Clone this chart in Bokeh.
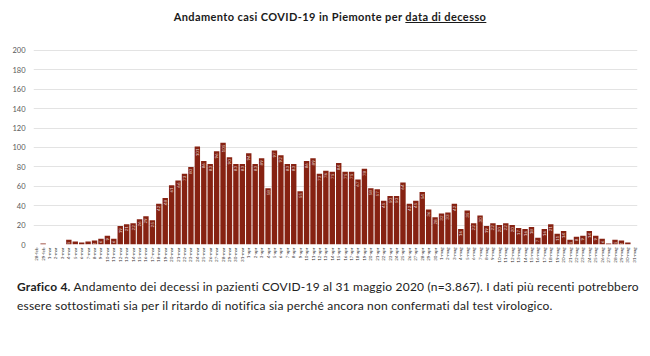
import math
from bokeh.plotting import figure
from bokeh.models import Div, ColumnDataSource, FactorRange, Range1d, FixedTicker
from bokeh.layouts import column
from bokeh.embed import file_html
from bokeh.resources import INLINE
from bokeh.core.properties import value

# ---- data ----
dates_feb = ["28-feb", "29-feb"]
dates_mar = [f"{d}-mar" for d in range(1, 32)]
dates_apr = [f"{d}-apr" for d in range(1, 31)]
dates_mag = [f"{d}-mag" for d in range(1, 32)]
dates = dates_feb + dates_mar + dates_apr + dates_mag

deaths = [
    0, 1,
    0, 0, 0, 5, 3, 2, 3, 4, 6, 9, 6, 19, 21, 22, 26, 29, 25, 42, 48, 61, 66, 73, 80,
    101, 86, 83, 96, 105, 90, 83, 83,
    94, 83, 89, 58, 97, 92, 83, 83, 55, 86, 89, 73, 76, 75, 84, 75, 75, 67, 78, 58,
    57, 45, 50, 50, 64, 42, 45, 54, 36, 28,
    32, 33, 42, 16, 35, 22, 30, 19, 22, 20, 22, 20, 17, 16, 18, 7, 16, 21, 11, 14,
    5, 8, 9, 14, 9, 6, 1, 5, 4, 2, 0,
]
y_ticks = [0, 20, 40, 60, 80, 100, 120, 140, 160, 180, 200]

title_html = ("<b>Andamento casi COVID-19 in Piemonte per "
              "<u>data di decesso</u></b>")
caption_html = ("<b>Grafico 4.</b> Andamento dei decessi in pazienti COVID-19 al "
                "31 maggio 2020 (n=3.867). I dati più recenti potrebbero<br>"
                "essere sottostimati sia per il ritardo di notifica sia perché "
                "ancora non confermati dal test virologico.")

FONT = "Lato"

labels = [str(v) if v > 0 else "" for v in deaths]
source = ColumnDataSource(dict(date=dates, deaths=deaths, label=labels))

p = figure(
    x_range=FactorRange(factors=dates, range_padding=0),
    y_range=Range1d(0, 201),
    width=650, height=230,
    min_border_left=33, min_border_right=13,
    min_border_top=9, min_border_bottom=26,
    toolbar_location=None, output_backend="svg",
)
p.outline_line_color = None
p.background_fill_color = "white"
p.border_fill_color = "white"

p.vbar(x="date", top="deaths", width=0.84, source=source,
       fill_color="#862212", line_color=None)

p.text(x="date", y="deaths", text="label", source=source,
       angle=math.pi / 2, text_align="right", text_baseline="middle",
       x_offset=0, y_offset=2,
       text_font=value(FONT), text_font_size="4.5px",
       text_color="white", text_alpha=0.8)

p.yaxis.ticker = FixedTicker(ticks=y_ticks)
p.yaxis.axis_line_color = None
p.yaxis.major_tick_line_color = None
p.yaxis.minor_tick_line_color = None
p.yaxis.major_tick_out = 0
p.yaxis.major_tick_in = 0
p.yaxis.major_label_text_font = FONT
p.yaxis.major_label_text_font_size = "7.5px"
p.yaxis.major_label_text_color = "#595959"
p.yaxis.major_label_standoff = 8

p.xaxis.axis_line_color = None
p.xaxis.major_tick_line_color = None
p.xaxis.major_tick_out = 0
p.xaxis.major_tick_in = 0
p.xaxis.major_label_orientation = math.pi / 2
p.xaxis.major_label_text_font = FONT
p.xaxis.major_label_text_font_size = "4.5px"
p.xaxis.major_label_text_color = "#333333"
p.xaxis.major_label_standoff = 3

p.xgrid.grid_line_color = None
p.ygrid.grid_line_color = "#e3e3e3"
p.ygrid.grid_line_width = 1

title_div = Div(
    text=title_html, width=650, height=40, margin=(0, 0, 0, 0),
    styles={"font-family": FONT, "font-size": "11px", "line-height": "12px",
            "letter-spacing": "0.4px",
            "color": "#1a1a1a", "text-align": "center", "width": "650px",
            "padding-top": "11px", "padding-left": "10px",
            "box-sizing": "border-box"},
)
caption_div = Div(
    text=caption_html, width=650, height=86, margin=(0, 0, 0, 0),
    styles={"font-family": FONT, "font-size": "12px", "line-height": "19px",
            "letter-spacing": "0.2px",
            "color": "#222222", "padding-left": "17px", "padding-top": "7px",
            "box-sizing": "border-box", "white-space": "nowrap"},
)

layout = column(title_div, p, caption_div, spacing=0, margin=(0, 0, 0, 0))

open("out.html", "w").write(file_html(layout, INLINE))
